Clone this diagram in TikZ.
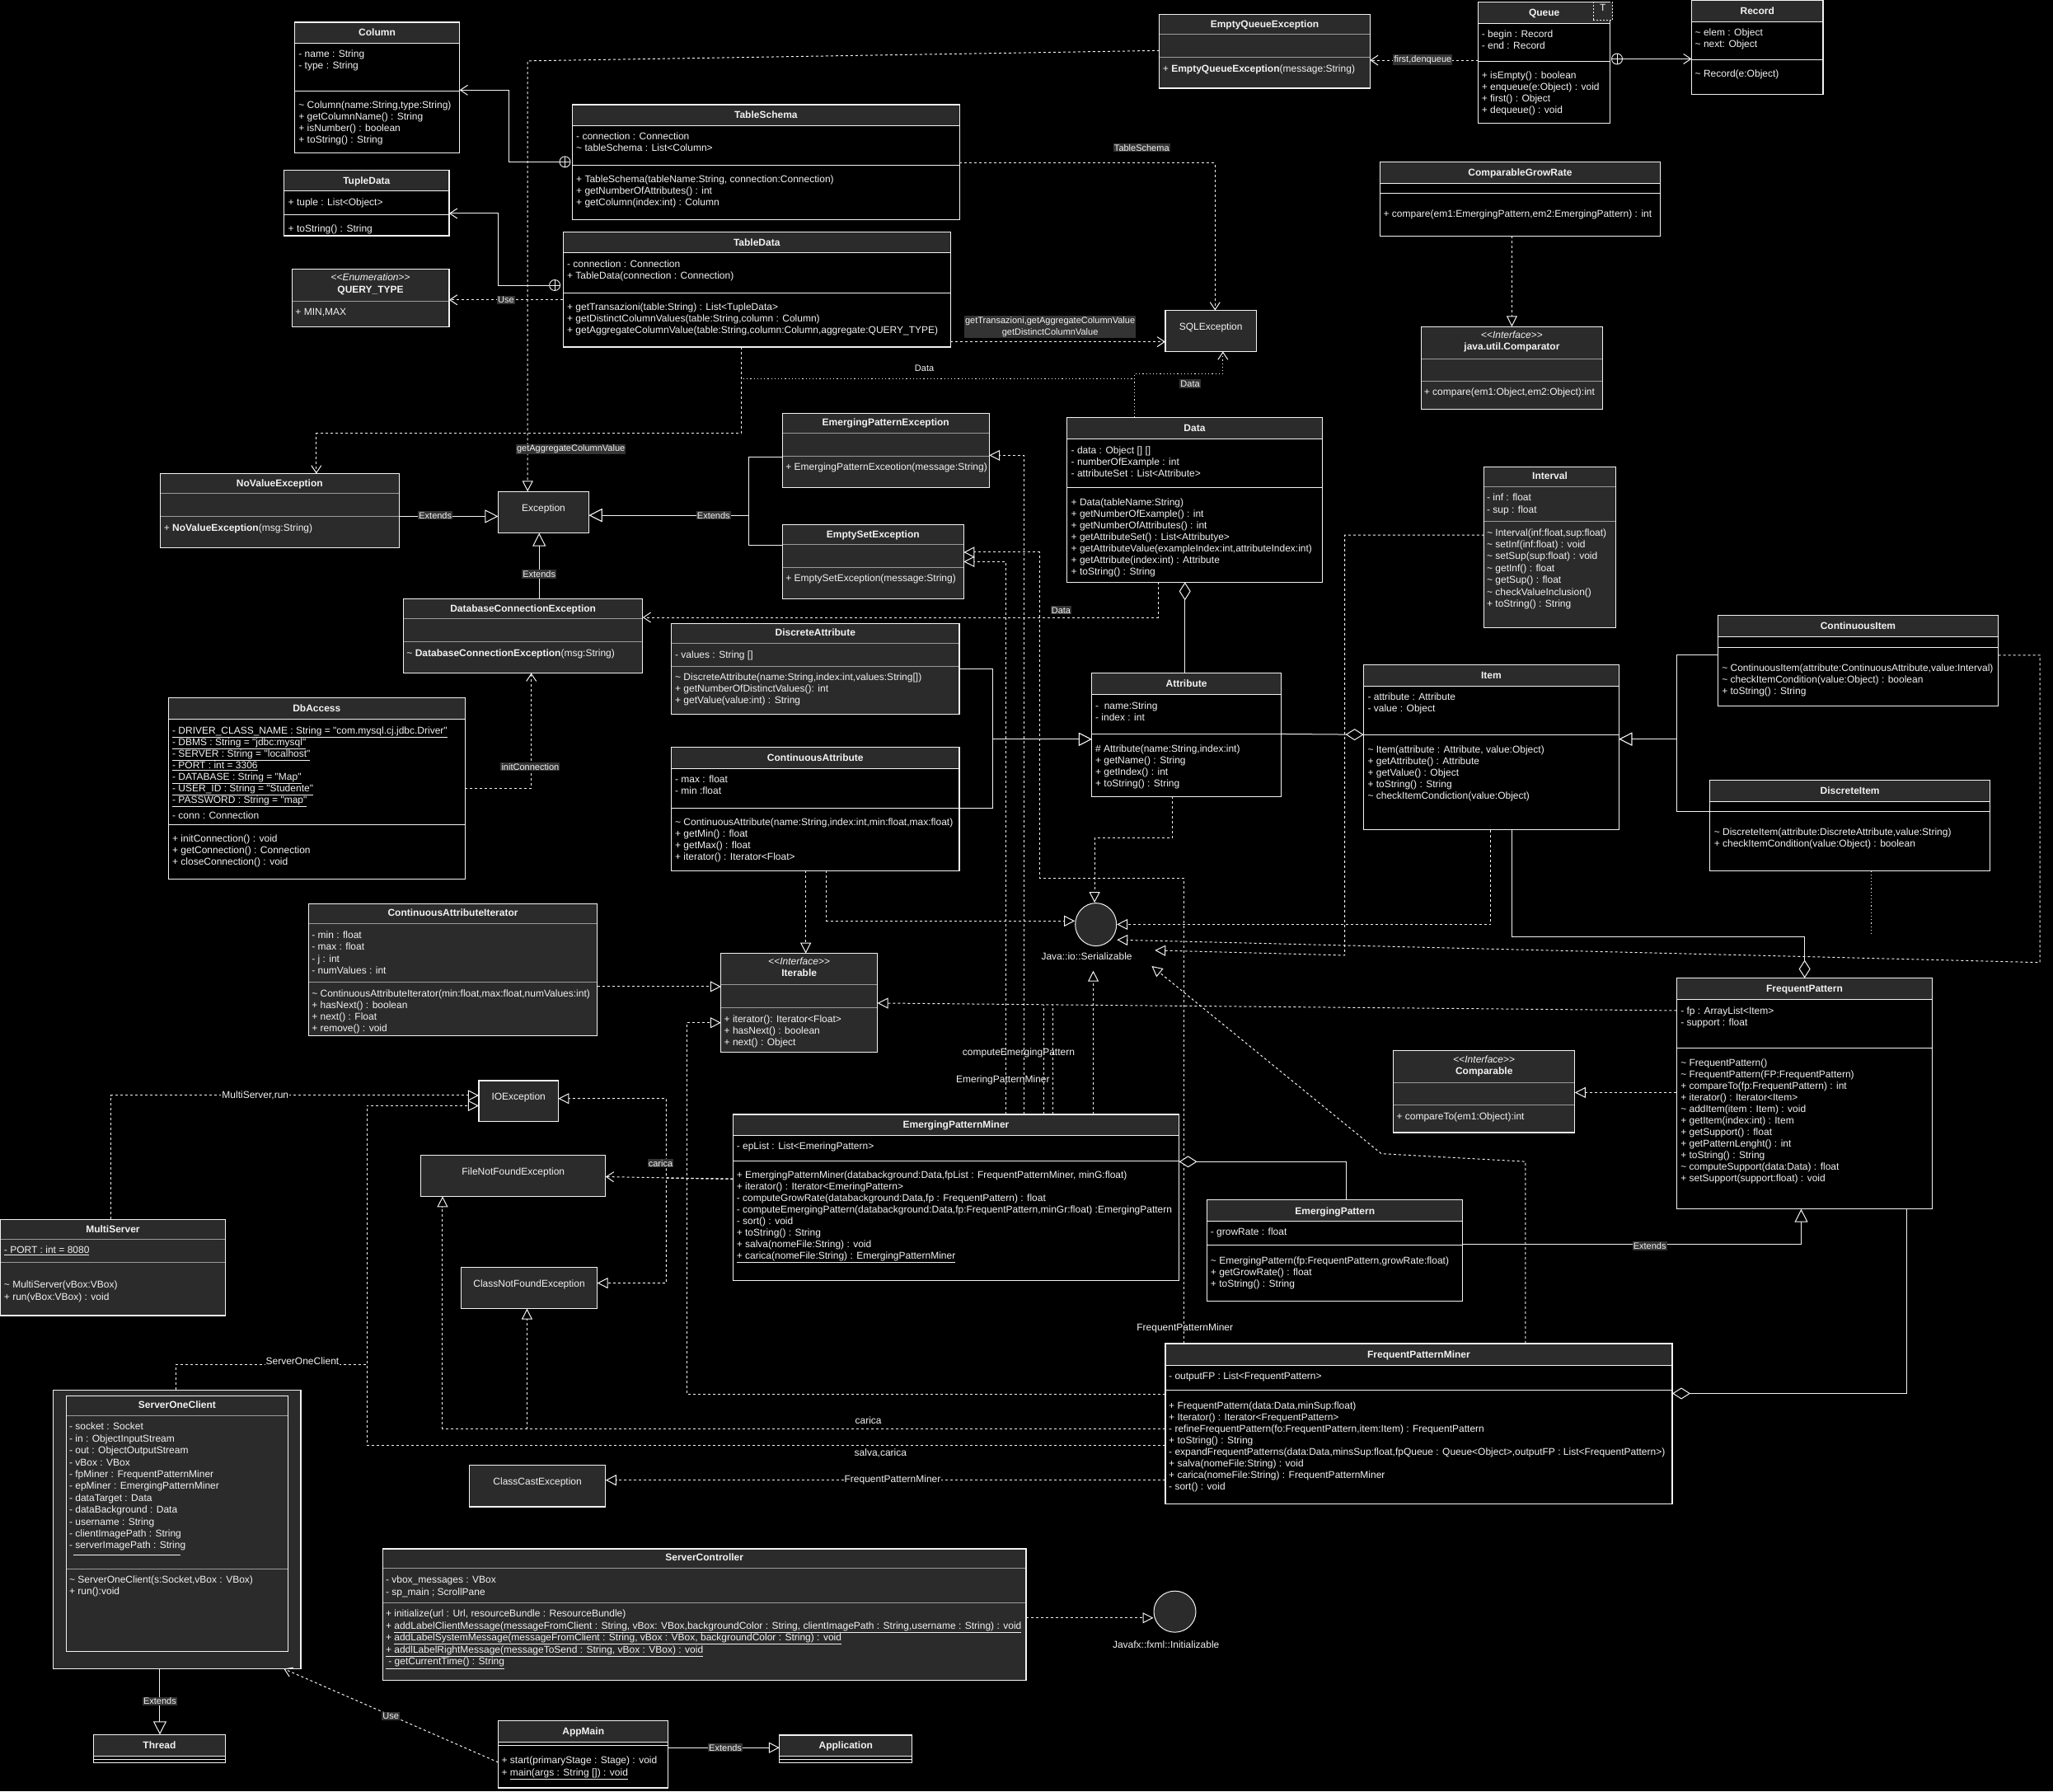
\documentclass[tikz,border=0pt]{standalone}
\usepackage{fontspec}
\newfontfamily\umlfont{Liberation Sans}
\usepackage{tikz}
\usetikzlibrary{arrows.meta,fit,shapes.geometric}

\definecolor{boxgray}{HTML}{2B2B2B}
\definecolor{sepgray}{HTML}{9A9A9A}
\definecolor{inkwhite}{HTML}{F2F2F2}
\definecolor{labelgray}{HTML}{333333}

\tikzset{
  classnode/.style={inner sep=0pt, outer sep=0pt},
  blackbody/.style={fill=black},
  graybody/.style={fill=boxgray},
  blackbody sep/.style={draw=inkwhite, line width=1pt},
  graybody sep/.style={draw=sepgray, line width=1pt},
  headfill/.style={fill=boxgray},
  boxframe/.style={draw=inkwhite, line width=1.2pt},
  excbox/.style={classnode, draw=inkwhite, line width=1.2pt, fill=boxgray, text=inkwhite, font=\umlfont\fontsize{12}{14}\selectfont},
  socframe/.style={classnode, draw=inkwhite, line width=1.2pt, fill=boxgray},
  parambox/.style={classnode, fill=boxgray, draw=inkwhite, line width=0.8pt, dash pattern=on 2pt off 2pt, text=inkwhite, font=\umlfont\fontsize{12}{14}\selectfont},
  membertext/.style={anchor=west, inner sep=0pt, yshift=-1pt, text=inkwhite, font=\umlfont\fontsize{12}{14}\selectfont, text height=8.6pt, text depth=2.4pt},
  classtitle/.style={membertext, anchor=center, font=\umlfont\bfseries\fontsize{12}{14}\selectfont},
  stereo/.style={membertext, anchor=center},
  conn/.style={draw=inkwhite, line width=1pt},
  dashconn/.style={conn, dash pattern=on 3pt off 3pt},
  dotconn/.style={conn, dash pattern=on 1.2pt off 3pt},
  openhead/.style={-{Straight Barb[length=9pt,width=12pt]}},
  trihead/.style={-{Triangle[open,fill=black,length=13pt,width=13pt]}},
  bigtri/.style={-{Triangle[open,fill=black,length=16pt,width=16pt]}},
  diamondtail/.style={{Diamond[open,fill=black,length=22pt,width=14pt]}-},
  diamondhead/.style={-{Diamond[open,fill=black,length=22pt,width=14pt]}},
  nestmark/.style={circle, draw=inkwhite, fill=black, line width=0.9pt, minimum size=13pt, inner sep=0pt,
    path picture={\draw[inkwhite, line width=0.9pt] (path picture bounding box.north) -- (path picture bounding box.south) (path picture bounding box.west) -- (path picture bounding box.east);}},
  ifaceball/.style={ellipse, draw=inkwhite, line width=1pt, fill=boxgray, inner sep=0pt},
  edgelabel/.style={inner sep=1.2pt, fill=labelgray, text=inkwhite, font=\umlfont\fontsize{11}{13}\selectfont},
  darklabel/.style={inner sep=1pt, fill=black, text=inkwhite, font=\umlfont\fontsize{12}{14}\selectfont},
  barelabel/.style={inner sep=0pt, text=inkwhite, font=\umlfont\fontsize{12}{14}\selectfont},
}

% class box: name, x1, y1, x2, y2, header bottom, separator, body style
\newcommand{\umlclass}[8]{%
  \node[classnode, fit={(#2,#3) (#4,#5)}, #8] (#1) {};
  \fill[headfill] (#2,#3) rectangle (#4,#6);
  \draw[#8 sep] (#2,#6) -- (#4,#6) (#2,#7) -- (#4,#7);
  \draw[boxframe] (#1.north west) rectangle (#1.south east);
}
% member lines: [step], prefix, x, y of first line, list
\newcommand{\umllines}[5][8.813]{%
  \foreach \entry [count=\idx] in {#5}
    \node[membertext] (#2-\idx) at ({#3},{#4+(\idx-1)*#1}) {\entry};
}

\begin{document}
\begin{tikzpicture}[x=1.58865pt, y=-1.58865pt]
  \useasboundingbox (0,0) rectangle (1568,1368);
  \fill[black] (0,0) rectangle (1568,1368);

  % database classes
  \umlclass{column}{225}{17}{351}{117}{33}{69.5}{blackbody}
  \node[classtitle] (column-t) at (288,25) {Column};
  \umllines{column-a}{228}{41.4}{{- name : String},{- type : String}}
  \umllines{column-m}{228}{80.3}{{\textasciitilde{} Column(name:String,type:String)},{+ getColumnName() : String},{+ isNumber() : boolean},{+ toString() : String}}

  \umlclass{tupledata}{217}{130}{343}{180}{146}{164}{blackbody}
  \node[classtitle] (tupledata-t) at (280,138.3) {TupleData};
  \umllines{tupledata-a}{220}{154.7}{{+ tuple : List<Object>}}
  \umllines{tupledata-m}{220}{174.9}{{+ toString() : String}}

  \umlclass{querytype}{223}{205.5}{343}{249.5}{230}{230}{graybody}
  \node[stereo] (querytype-s) at (283,211.8) {<<\textit{Enumeration}>>};
  \node[classtitle] (querytype-t) at (283,221) {QUERY\_TYPE};
  \umllines{querytype-a}{225.5}{238.3}{{+ MIN,MAX}}

  \umlclass{tableschema}{437}{80}{733}{168}{96}{126}{blackbody}
  \node[classtitle] (tableschema-t) at (585,87.9) {TableSchema};
  \umllines{tableschema-a}{440}{104.3}{{- connection : Connection},{\textasciitilde{} tableSchema : List<Column>}}
  \umllines{tableschema-m}{440}{136.9}{{+ TableSchema(tableName:String, connection:Connection)},{+ getNumberOfAttributes() : int},{+ getColumn(index:int) : Column}}

  \umlclass{tabledata}{430}{177}{726}{265}{193}{223.7}{blackbody}
  \node[classtitle] (tabledata-t) at (578,185.5) {TableData};
  \umllines{tabledata-a}{433}{201.9}{{- connection : Connection},{+ TableData(connection : Connection)}}
  \umllines{tabledata-m}{433}{234.5}{{+ getTransazioni(table:String) : List<TupleData>},{+ getDistinctColumnValues(table:String,column : Column)},{+ getAggregateColumnValue(table:String,column:Column,aggregate:QUERY\_TYPE)}}

  \node[excbox, fit={(890,237) (959.6,268.4)}] (sqlexc) {SQLException};

  % queue
  \umlclass{emptyqueue}{885.5}{10.8}{1046.3}{67.4}{26}{43.8}{graybody}
  \node[classtitle] (emptyqueue-t) at (965.9,18.4) {EmptyQueueException};
  \umllines{emptyqueue-m}{888}{52.4}{{+ \textbf{EmptyQueueException}(message:String)}}

  \umlclass{queue}{1129}{1.8}{1229.8}{94}{18}{46.8}{blackbody}
  \node[classtitle] (queue-t) at (1179.4,9.9) {Queue};
  \node[parambox, fit={(1216.7,1.8) (1231.7,15.3)}] (queue-p) {T};
  \umllines{queue-a}{1131.5}{26.3}{{- begin : Record},{- end : Record}}
  \umllines{queue-m}{1131.5}{57.8}{{+ isEmpty() : boolean},{+ enqueue(e:Object) : void},{+ first() : Object},{+ dequeue() : void}}

  \umlclass{record}{1292}{0.5}{1392.4}{72}{16.6}{45.6}{blackbody}
  \node[classtitle] (record-t) at (1342.2,8.5) {Record};
  \umllines{record-a}{1294.5}{25}{{\textasciitilde{} elem : Object},{\textasciitilde{} next: Object}}
  \umllines{record-m}{1294.5}{56.4}{{\textasciitilde{} Record(e:Object)}}

  \umlclass{cgr}{1054}{123.6}{1268}{180.3}{139.8}{147.5}{blackbody}
  \node[classtitle] (cgr-t) at (1161,132) {ComparableGrowRate};
  \umllines{cgr-m}{1056.5}{163.4}{{+ compare(em1:EmergingPattern,em2:EmergingPattern) : int}}

  \umlclass{comparator}{1085.5}{249.5}{1223.9}{312.5}{274}{291}{graybody}
  \node[stereo] (comparator-s) at (1154.7,255.8) {<<\textit{Interface}>>};
  \node[classtitle] (comparator-t) at (1154.7,264.8) {java.util.Comparator};
  \umllines{comparator-m}{1087.5}{299.4}{{+ compare(em1:Object,em2:Object):int}}

  % data and exceptions
  \umlclass{data}{815}{318.9}{1009.8}{444.6}{335.3}{372.4}{blackbody}
  \node[classtitle] (data-t) at (912.4,327) {Data};
  \umllines{data-a}{818}{343.8}{{- data : Object [] []},{- numberOfExample : int},{- attributeSet : List<Attribute>}}
  \umllines{data-m}{818}{383.8}{{+ Data(tableName:String)},{+ getNumberOfExample() : int},{+ getNumberOfAttributes() : int},{+ getAttributeSet() : List<Attributye>},{+ getAttributeValue(exampleIndex:int,attributeIndex:int)},{+ getAttribute(index:int) : Attribute},{+ toString() : String}}

  \umlclass{interval}{1133.5}{356.6}{1234}{479.3}{371.5}{398.1}{graybody}
  \node[classtitle] (interval-t) at (1183.7,363.5) {Interval};
  \umllines[9.7]{interval-a}{1135.5}{379.7}{{- inf : float},{- sup : float}}
  \umllines[9.08]{interval-m}{1135.5}{406.6}{{\textasciitilde{} Interval(inf:float,sup:float)},{\textasciitilde{} setInf(inf:float) : void},{\textasciitilde{} setSup(sup:float) : void},{\textasciitilde{} getInf() : float},{\textasciitilde{} getSup() : float},{\textasciitilde{} checkValueInclusion()},{+ toString() : String}}

  \umlclass{novalue}{122.3}{361.7}{304.9}{418.2}{376.6}{394.3}{graybody}
  \node[classtitle] (novalue-t) at (213.6,369) {NoValueException};
  \umllines{novalue-m}{125}{403}{{+ \textbf{NoValueException}(msg:String)}}

  \node[excbox, fit={(380.5,375.4) (449.8,407)}] (exception) {Exception};

  \umlclass{epexc}{597.6}{315.6}{755.5}{372.4}{330.8}{348.5}{graybody}
  \node[classtitle] (epexc-t) at (676.5,322.5) {EmergingPatternException};
  \umllines{epexc-m}{600}{356.7}{{+ EmergingPatternExceotion(message:String)}}

  \umlclass{emptyset}{597.6}{400.8}{736}{457.3}{416}{433.4}{graybody}
  \node[classtitle] (emptyset-t) at (666.8,408) {EmptySetException};
  \umllines{emptyset-m}{600}{441.8}{{+ EmptySetException(message:String)}}

  \umlclass{dbconn}{308.2}{457.3}{490.8}{514}{472.4}{490.1}{graybody}
  \node[classtitle] (dbconn-t) at (399.5,464.8) {DatabaseConnectionException};
  \umllines{dbconn-m}{310.5}{498.6}{{\textasciitilde{} \textbf{DatabaseConnectionException}(msg:String)}}

  % attributes and items
  \umlclass{discattr}{512.7}{476.2}{732.7}{545.4}{491.4}{509}{graybody}
  \node[classtitle] (discattr-t) at (622.7,482.8) {DiscreteAttribute};
  \umllines{discattr-a}{515.5}{499.8}{{- values : String []}}
  \umllines{discattr-m}{515.5}{517.3}{{\textasciitilde{} DiscreteAttribute(name:String,index:int,values:String[])},{+ getNumberOfDistinctValues(): int},{+ getValue(value:int) : String}}

  \umlclass{contattr}{512.7}{570.5}{732.7}{664.9}{587}{617.3}{blackbody}
  \node[classtitle] (contattr-t) at (622.7,579) {ContinuousAttribute};
  \umllines{contattr-a}{515.5}{595.4}{{- max : float},{- min :float}}
  \umllines{contattr-m}{515.5}{628}{{\textasciitilde{} ContinuousAttribute(name:String,index:int,min:float,max:float)},{+ getMin() : float},{+ getMax() : float},{+ iterator() : Iterator<Float>}}

  \umlclass{attribute}{833.9}{514}{978.4}{608.3}{530.4}{560.5}{blackbody}
  \node[classtitle] (attribute-t) at (906.2,522.2) {Attribute};
  \umllines{attribute-a}{836.5}{538.9}{{-\ \ name:String},{- index : int}}
  \umllines{attribute-m}{836.5}{571.5}{{\# Attribute(name:String,index:int)},{+ getName() : String},{+ getIndex() : int},{+ toString() : String}}

  \umlclass{item}{1041.5}{507.7}{1236.5}{633.6}{524.1}{561}{blackbody}
  \node[classtitle] (item-t) at (1139,515.9) {Item};
  \umllines{item-a}{1044.5}{532.3}{{- attribute : Attribute},{- value : Object}}
  \umllines{item-m}{1044.5}{572.6}{{\textasciitilde{} Item(attribute : Attribute, value:Object)},{+ getAttribute() : Attribute},{+ getValue() : Object},{+ toString() : String},{\textasciitilde{} checkItemCondiction(value:Object)}}

  \umlclass{contitem}{1312}{469.8}{1526.2}{539}{486.3}{494.2}{blackbody}
  \node[classtitle] (contitem-t) at (1419.1,478.3) {ContinuousItem};
  \umllines{contitem-m}{1315}{509.9}{{\textasciitilde{} ContinuousItem(attribute:ContinuousAttribute,value:Interval)},{\textasciitilde{} checkItemCondition(value:Object) : boolean},{+ toString() : String}}

  \umlclass{discitem}{1305.9}{595.8}{1519.8}{665}{612.2}{619.7}{blackbody}
  \node[classtitle] (discitem-t) at (1412.9,604) {DiscreteItem};
  \umllines{discitem-m}{1309}{635.6}{{\textasciitilde{} DiscreteItem(attribute:DiscreteAttribute,value:String)},{+ checkItemCondition(value:Object) : boolean}}

  \umlclass{dbaccess}{128.6}{533}{355.2}{671.3}{549}{629.8}{blackbody}
  \node[classtitle] (dbaccess-t) at (241.9,541) {DbAccess};
  \umllines{dbaccess-a}{131.5}{557.8}{{\underline{- DRIVER\_CLASS\_NAME : String = "com.mysql.cj.jdbc.Driver"}},{\underline{- DBMS : String = "jdbc:mysql"}},{\underline{- SERVER : String = "localhost"}},{\underline{- PORT : int = 3306}},{\underline{- DATABASE : String = "Map"}},{\underline{- USER\_ID : String = "Studente"}},{\underline{- PASSWORD : String = "map"}}}
  \node[membertext] (dbaccess-c) at (131.5,623) {- conn : Connection};
  \umllines{dbaccess-m}{131.5}{640.7}{{+ initConnection() : void},{+ getConnection() : Connection},{+ closeConnection() : void}}

  \umlclass{cai}{235.7}{690.3}{456.1}{791}{705.2}{750.2}{graybody}
  \node[classtitle] (cai-t) at (345.9,697.2) {ContinuousAttributeIterator};
  \umllines[9.1]{cai-a}{238}{713.9}{{- min : float},{- max : float},{- j : int},{- numValues : int}}
  \umllines{cai-m}{238}{758.7}{{\textasciitilde{} ContinuousAttributeIterator(min:float,max:float,numValues:int)},{+ hasNext() : boolean},{+ next() : Float},{+ remove() : void}}

  \umlclass{iterable}{550.7}{728.1}{670.1}{803.5}{752.2}{769.5}{graybody}
  \node[stereo] (iterable-s) at (610.4,734.3) {<<\textit{Interface}>>};
  \node[classtitle] (iterable-t) at (610.4,743.3) {Iterable};
  \umllines{iterable-m}{553}{778}{{+ iterator(): Iterator<Float>},{+ hasNext() : boolean},{+ next() : Object}}

  \node[ifaceball, minimum width=50pt, minimum height=52pt] (serial) at (837,706) {};
  \node[barelabel] (serial-name) at (830,730.5) {Java::io::Serializable};

  % patterns
  \umlclass{fp}{1280.6}{746.9}{1475.7}{923.2}{763.3}{800.3}{blackbody}
  \node[classtitle] (fp-t) at (1378.2,755.1) {FrequentPattern};
  \umllines{fp-a}{1283.5}{771.7}{{- fp : ArrayList<Item>},{- support : float}}
  \umllines{fp-m}{1283.5}{811.9}{{\textasciitilde{} FrequentPattern()},{\textasciitilde{} FrequentPattern(FP:FrequentPattern)},{+ compareTo(fp:FrequentPattern) : int},{+ iterator() : Iterator<Item>},{\textasciitilde{} addItem(item : Item) : void},{+ getItem(index:int) : Item},{+ getSupport() : float},{+ getPatternLenght() : int},{+ toString() : String},{\textasciitilde{} computeSupport(data:Data) : float},{+ setSupport(support:float) : void}}

  \umlclass{comparable}{1064.1}{802.3}{1202.8}{864.9}{826.8}{843.7}{graybody}
  \node[stereo] (comparable-s) at (1133.5,808.8) {<<\textit{Interface}>>};
  \node[classtitle] (comparable-t) at (1133.5,817.7) {Comparable};
  \umllines{comparable-m}{1066.5}{852.4}{{+ compareTo(em1:Object):int}}

  \umlclass{epm}{559.9}{851}{900.5}{977.9}{867.1}{886.3}{blackbody}
  \node[classtitle] (epm-t) at (730.2,859.1) {EmergingPatternMiner};
  \umllines{epm-a}{562.5}{875.5}{{- epList : List<EmeringPattern>}}
  \umllines{epm-m}{562.5}{897.4}{{+ EmergingPatternMiner(databackground:Data,fpList : FrequentPatternMiner, minG:float)},{+ iterator() : Iterator<EmeringPattern>},{- computeGrowRate(databackground:Data,fp : FrequentPattern) : float},{- computeEmergingPattern(databackground:Data,fp:FrequentPattern,minGr:float) :EmergingPattern},{- sort() : void},{+ toString() : String},{+ salva(nomeFile:String) : void},{\underline{+ carica(nomeFile:String) : EmergingPatternMiner}}}

  \umlclass{ep}{922}{916}{1117.2}{993.5}{932.4}{950.9}{blackbody}
  \node[classtitle] (ep-t) at (1019.6,924.7) {EmergingPattern};
  \umllines{ep-a}{924.5}{940.8}{{- growRate : float}}
  \umllines{ep-m}{924.5}{963}{{\textasciitilde{} EmergingPattern(fp:FrequentPattern,growRate:float)},{+ getGrowRate() : float},{+ toString() : String}}

  \umlclass{fpm}{890.1}{1026}{1277.2}{1148.4}{1042.7}{1061.7}{blackbody}
  \node[classtitle] (fpm-t) at (1083.6,1034.6) {FrequentPatternMiner};
  \umllines{fpm-a}{892.6}{1051}{{- outputFP : List<FrequentPattern>}}
  \umllines{fpm-m}{892.6}{1073.2}{{+ FrequentPattern(data:Data,minSup:float)},{+ Iterator() : Iterator<FrequentPattern>},{- refineFrequentPattern(fo:FrequentPattern,item:Item) : FrequentPattern},{+ toString() : String},{- expandFrequentPatterns(data:Data,minsSup:float,fpQueue : Queue<Object>,outputFP : List<FrequentPattern>)},{+ salva(nomeFile:String) : void},{+ carica(nomeFile:String) : FrequentPatternMiner},{- sort() : void}}

  % io exceptions
  \node[excbox, fit={(365.7,825.2) (426.4,856.5)}] (ioexc) {IOException};
  \node[excbox, fit={(321.5,882.3) (462.5,913.6)}] (fnfexc) {FileNotFoundException};
  \node[excbox, fit={(352.2,967.8) (456.1,999.3)}] (cnfexc) {ClassNotFoundException};
  \node[excbox, fit={(358.5,1118.9) (462.5,1150.6)}] (ccexc) {ClassCastException};

  % server side
  \umlclass{multiserver}{0.5}{931.2}{172}{1004.6}{946.3}{964.2}{graybody}
  \node[classtitle] (multiserver-t) at (86.2,938.5) {MultiServer};
  \umllines{multiserver-a}{3}{954.5}{{\underline{- PORT : int = 8080}}}
  \umllines[9.7]{multiserver-m}{3}{981}{{\textasciitilde{} MultiServer(vBox:VBox)},{+ run(vBox:VBox) : void}}

  \node[socframe, fit={(40.8,1061.5) (229.8,1274.4)}] (soc) {};
  \umlclass{socbox}{50.6}{1066}{220}{1261.1}{1081.1}{1198.1}{graybody}
  \node[classtitle] (socbox-t) at (135.3,1073) {ServerOneClient};
  \umllines[9.06]{socbox-a}{52.8}{1089.5}{{- socket : Socket},{- in : ObjectInputStream},{- out : ObjectOutputStream},{- vBox : VBox},{- fpMiner : FrequentPatternMiner},{- epMiner : EmergingPatternMiner},{- dataTarget : Data},{- dataBackground : Data},{- username : String},{- clientImagePath : String},{- serverImagePath : String}}
  \draw[inkwhite, line width=1pt] (56,1187.4) -- (138,1187.4);
  \umllines{socbox-m}{52.8}{1206.3}{{\textasciitilde{} ServerOneClient(s:Socket,vBox : VBox)},{+ run():void}}

  \umlclass{servercontroller}{292.3}{1182.7}{783.7}{1283.2}{1197.5}{1223.9}{graybody}
  \node[classtitle] (servercontroller-t) at (538,1189.5) {ServerController};
  \umllines[9.6]{servercontroller-a}{294.5}{1206}{{- vbox\_messages : VBox},{- sp\_main ; ScrollPane}}
  \umllines[9.17]{servercontroller-m}{294.5}{1232.2}{{+ initialize(url : Url, resourceBundle : ResourceBundle)},{+ \underline{addLabelClientMessage(messageFromClient : String, vBox: VBox,backgroundColor : String, clientImagePath : String,username : String) : void}},{+ \underline{addLabelSystemMessage(messageFromClient : String, vBox : VBox, backgroundColor : String) : void}},{\underline{+ addlLabelRightMessage(messageToSend : String, vBox : VBox) : void}},{\underline{\ - getCurrentTime() : String}}}

  \node[ifaceball, minimum width=51pt, minimum height=50pt] (initball) at (897.3,1230.7) {};
  \node[barelabel] (initball-name) at (890.5,1255.8) {Javafx::fxml::Initializable};

  \umlclass{thread}{71.5}{1324.6}{172}{1346.2}{1341}{1343.3}{blackbody}
  \node[classtitle] (thread-t) at (121.8,1332.8) {Thread};

  \umlclass{appmain}{380.6}{1314.1}{510.3}{1365.3}{1330.3}{1332.7}{blackbody}
  \node[classtitle] (appmain-t) at (445.5,1322.2) {AppMain};
  \umllines[9.5]{appmain-m}{383}{1343.9}{{+ start(primaryStage : Stage) : void},{+ \underline{main(args : String []) : void}}}

  \umlclass{application}{595.4}{1325}{696.6}{1346.3}{1341}{1343.4}{blackbody}
  \node[classtitle] (application-t) at (646,1333) {Application};

  % nested class marks
  \node[nestmark] (tsnest) at (431.5,123.6) {};
  \node[nestmark] (tdnest) at (423.7,217.8) {};
  \node[nestmark] (qnest) at (1235,45) {};

  % free ends
  \coordinate (tdjoin) at (566,289);
  \coordinate (epmjoin1) at (797,767.3);
  \coordinate (epmjoin2) at (804,767.6);
  \coordinate (serialfoot) at (835,741.3);
  \coordinate (distub) at (1429.4,715);
  \coordinate (intervaltip) at (882,725.7);
  \coordinate (fpmtip) at (879.6,737.7);
  \coordinate (socjoin) at (280.4,1042);

  % database connectors
  \draw[conn, openhead] (tsnest.west) -| (389,68.8) -- (column.east |- 0,68.8);
  \draw[conn, openhead] (tdnest.west) -| (380.5,163) -- (tupledata.east |- 0,163);
  \draw[dashconn, openhead] (tabledata.west |- 0,229) -- (querytype.east |- 0,229);
  \draw[dashconn, trihead] (emptyqueue.west |- 0,38.6) -- (403,46.5) -- (exception.north -| 403,0);
  \draw[dashconn, openhead] (tabledata.south -| 566,0) -- (566,331) -| (novalue.north -| 241.6,0);
  \draw[dashconn, openhead] (tableschema.east |- 0,124.3) -| (sqlexc.north -| 928,0);
  \draw[dashconn, openhead] (tabledata.east |- 0,261) -- (sqlexc.west |- 0,261);
  \draw[dotconn, openhead] (data.north -| 866.4,0) -- (866.4,285.5) -| (sqlexc.south -| 934,0);
  \draw[dotconn] (data.north -| 866.4,0) |- (tdjoin);
  \draw[dashconn, openhead] (data.south -| 884.8,0) |- (dbconn.east |- 0,471.5);
  \draw[dashconn, openhead] (dbaccess.east |- 0,601.9) -| (dbconn.south -| 405.8,0);

  % exception hierarchy
  \draw[conn, bigtri] (novalue.east |- 0,394.3) -- (exception.west |- 0,394.3);
  \draw[conn, bigtri] (dbconn.north -| 411.8,0) -- (exception.south -| 411.8,0);
  \draw[conn, bigtri] (epexc.west |- 0,349) -| (571.6,393.5) -- (exception.east |- 0,393.5);
  \draw[conn, bigtri] (emptyset.west |- 0,416.2) -| (571.6,393.5) -- (exception.east |- 0,393.5);

  % attributes, items, serializable
  \draw[conn, diamondtail] (data.south -| 905,0) -- (attribute.north -| 905,0);
  \draw[conn, bigtri] (discattr.east |- 0,510.8) -| (758,564.5) -- (attribute.west |- 0,564.5);
  \draw[conn, bigtri] (contattr.east |- 0,617) -| (758,564.5) -- (attribute.west |- 0,564.5);
  \draw[conn, diamondhead] (attribute.east |- 0,560.5) -- (item.west |- 0,561);
  \draw[dashconn, trihead] (attribute.south -| 895.3,0) -- (895.3,640) -| (serial.north -| 836,0);
  \draw[dashconn, trihead] (contattr.south -| 615.4,0) -- (iterable.north -| 615.4,0);
  \draw[dashconn, trihead] (contattr.south -| 631.2,0) |- (serial.west |- 0,703.3);
  \draw[dashconn, trihead] (cai.east |- 0,753.4) -- (iterable.west |- 0,753.4);
  \draw[dashconn, trihead] (fpm.west |- 0,1064.8) -| (524.5,781) -- (iterable.west |- 0,781);
  \draw[dashconn, trihead] (fp.west |- 0,771.7) -- (iterable.east |- 0,766);
  \draw[dashconn] (epm.north -| 797,0) -- (epmjoin1);
  \draw[dashconn] (epm.north -| 804,0) -- (epmjoin2);
  \draw[dashconn, trihead] (epm.north -| 835,0) -- (serialfoot);
  \draw[dashconn, trihead] (item.south -| 1138.5,0) |- (serial.east |- 0,705.9);
  \draw[dashconn, trihead] (contitem.east |- 0,500.4) -| (1558,735) -- (1378.3,730.5) -- (serial.east |- 0,717.7);
  \draw[dotconn] (discitem.south -| 1429.4,0) -- (distub);
  \draw[dashconn, trihead] (interval.west |- 0,408.6) -| (1027,729.5) -- (intervaltip);
  \draw[dashconn, trihead] (fpm.north -| 1165,0) -- (1165,887) -- (1055,881) -- (fpmtip);
  \draw[conn, bigtri] (discitem.west |- 0,619.7) -| (1280.8,564.4) -- (item.east |- 0,564.4);
  \draw[conn, bigtri] (contitem.west |- 0,500.4) -| (1280.8,564.4) -- (item.east |- 0,564.4);

  % miners and patterns
  \draw[dashconn, trihead] (epm.north -| 782,0) |- (epexc.east |- 0,347.7);
  \draw[dashconn, trihead] (epm.north -| 768,0) |- (emptyset.east |- 0,428.9);
  \draw[dashconn, trihead] (fpm.north -| 904,0) -- (904,670.6) -| (794,421.7) -- (emptyset.east |- 0,421.7);
  \draw[conn, diamondhead] (item.south -| 1155,0) |- (1378.3,715.3) -- (fp.north -| 1378.3,0);
  \draw[conn, bigtri] (ep.east |- 0,950.2) -| (fp.south -| 1375.7,0);
  \draw[dashconn, trihead] (fp.west |- 0,834.3) -- (comparable.east |- 0,834.3);
  \draw[conn, diamondtail] (fpm.east |- 0,1064.1) -| (fp.south -| 1456,0);
  \draw[conn, diamondtail] (epm.east |- 0,887.1) -| (ep.north -| 1028,0);
  \draw[dashconn, trihead] (cgr.south -| 1154.7,0) -- (comparator.north -| 1154.7,0);
  \draw[dashconn, openhead] (queue.west |- 0,46) -- (emptyqueue.east |- 0,46);
  \draw[conn, openhead] (qnest.east) -- (record.west |- 0,45);

  % io exceptions and server
  \draw[dashconn, trihead] (multiserver.north -| 84.8,0) |- (ioexc.west |- 0,836.5);
  \draw[dashconn, trihead] (fpm.west |- 0,1104) -| (280.4,844.4) -- (ioexc.west |- 0,844.4);
  \draw[dashconn] (soc.north -| 134.4,0) |- (socjoin);
  \draw[dashconn, openhead] (epm.west |- 0,900.3) -- (fnfexc.east |- 0,898.6);
  \draw[dashconn, trihead] (epm.west |- 0,900.3) -- (508.8,899.6) |- (ioexc.east |- 0,838.9);
  \draw[dashconn, trihead] (epm.west |- 0,900.3) -- (508.8,899.6) |- (cnfexc.east |- 0,979.8);
  \draw[dashconn, trihead] (fpm.west |- 0,1091) -| (fnfexc.south -| 338,0);
  \draw[dashconn, trihead] (fpm.west |- 0,1091) -| (cnfexc.south -| 402.5,0);
  \draw[dashconn, trihead] (fpm.west |- 0,1130.3) -- (ccexc.east |- 0,1130.3);
  \draw[dashconn, trihead] (servercontroller.east |- 0,1235.5) -- (initball.west |- 0,1235.5);
  \draw[conn, bigtri] (soc.south -| 122.1,0) -- (thread.north -| 122.1,0);
  \draw[dashconn, openhead] (appmain.west |- 0,1345.8) -- (soc.south -| 216.8,0);
  \draw[conn, trihead] (appmain.east |- 0,1334.6) -- (application.west |- 0,1334.6);

  % labels
  \node[edgelabel] (lbl-use1) at (386.5,229) {Use};
  \node[edgelabel] (lbl-agg) at (436,343) {getAggregateColumnValue};
  \node[edgelabel] (lbl-ts) at (872,112.8) {TableSchema};
  \node[edgelabel, align=center, font=\umlfont\fontsize{11}{14.3}\selectfont] (lbl-td) at (802,249.5) {getTransazioni,getAggregateColumnValue\\getDistinctColumnValue};
  \node[barelabel, font=\umlfont\fontsize{11}{13}\selectfont] (lbl-data1) at (706,281) {Data};
  \node[edgelabel] (lbl-data2) at (909,293) {Data};
  \node[edgelabel] (lbl-data3) at (810.4,466) {Data};
  \node[edgelabel] (lbl-ext1) at (332.5,393.5) {Extends};
  \node[edgelabel] (lbl-ext2) at (411.8,438.3) {Extends};
  \node[edgelabel] (lbl-ext3) at (545,393.5) {Extends};
  \node[edgelabel] (lbl-init) at (405,585.5) {initConnection};
  \node[edgelabel] (lbl-queue) at (1086.7,45.6) {first,denqueue};
  \node[barelabel] (lbl-cep) at (778,804) {computeEmergingPattern};
  \node[barelabel] (lbl-epm) at (766,825) {EmeringPatternMiner};
  \node[barelabel] (lbl-fpm1) at (905,1014) {FrequentPatternMiner};
  \node[darklabel] (lbl-ms) at (195,836.5) {MultiServer,run};
  \node[darklabel] (lbl-soc) at (231,1039.3) {ServerOneClient};
  \node[edgelabel] (lbl-car1) at (504.5,888.3) {carica};
  \node[barelabel] (lbl-car2) at (663.2,1085) {carica};
  \node[barelabel] (lbl-salva) at (672.5,1109.4) {salva,carica};
  \node[darklabel] (lbl-fpm2) at (681.7,1130.3) {FrequentPatternMiner};
  \node[edgelabel] (lbl-ext4) at (1260,951.4) {Extends};
  \node[edgelabel] (lbl-ext5) at (122.1,1299.1) {Extends};
  \node[edgelabel] (lbl-use2) at (298.5,1310.6) {Use};
  \node[edgelabel] (lbl-ext6) at (554,1334.6) {Extends};
\end{tikzpicture}
\end{document}
